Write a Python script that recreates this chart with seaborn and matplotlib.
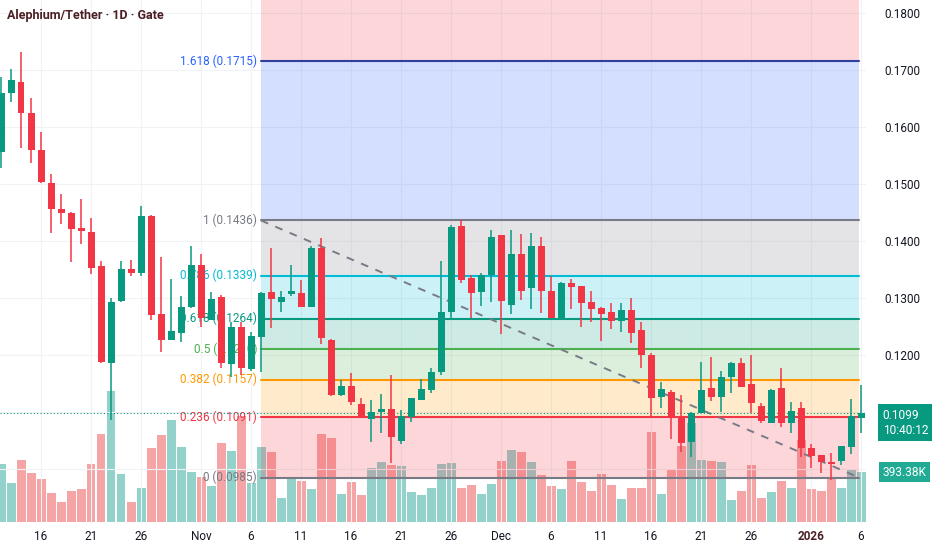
import numpy as np
import pandas as pd
import seaborn as sns
import matplotlib.pyplot as plt
import matplotlib.transforms as mtransforms

# Daily candles, Alephium/Tether (Gate)
dates = pd.date_range("2025-10-12", "2026-01-06", freq="D")

opens = [0.1556, 0.1660, 0.1679, 0.1625, 0.1560, 0.1502, 0.1456, 0.1449, 0.1423, 0.1416,
         0.1356, 0.1186, 0.1295, 0.1351, 0.1344, 0.1444, 0.1272, 0.1226, 0.1239, 0.1284,
         0.1358, 0.1262, 0.1302, 0.1184, 0.1249, 0.1175, 0.1232, 0.1311, 0.1293, 0.1307,
         0.1309, 0.1284, 0.1388, 0.1226, 0.1130, 0.1146, 0.1114, 0.1088, 0.1100, 0.1105,
         0.1049, 0.1091, 0.1121, 0.1139, 0.1170, 0.1275, 0.1426, 0.1335, 0.1311, 0.1340,
         0.1411, 0.1288, 0.1377, 0.1318, 0.1391, 0.1312, 0.1265, 0.1326, 0.1321, 0.1293,
         0.1282, 0.1275, 0.1260, 0.1279, 0.1244, 0.1200, 0.1126, 0.1135, 0.1093, 0.1047,
         0.1098, 0.1142, 0.1126, 0.1161, 0.1186, 0.1149, 0.1111, 0.1081, 0.1142, 0.1081,
         0.1107, 0.1037, 0.1025, 0.1012, 0.1014, 0.1039, 0.1089]
highs = [0.1688, 0.1702, 0.1732, 0.1651, 0.1591, 0.1518, 0.1482, 0.1451, 0.1474, 0.1440,
         0.1365, 0.1300, 0.1365, 0.1367, 0.1461, 0.1446, 0.1372, 0.1333, 0.1304, 0.1391,
         0.1377, 0.1311, 0.1305, 0.1258, 0.1258, 0.1240, 0.1311, 0.1388, 0.1312, 0.1358,
         0.1332, 0.1391, 0.1405, 0.1228, 0.1156, 0.1168, 0.1125, 0.1121, 0.1132, 0.1165,
         0.1104, 0.1125, 0.1158, 0.1177, 0.1365, 0.1428, 0.1437, 0.1340, 0.1344, 0.1419,
         0.1411, 0.1419, 0.1412, 0.1414, 0.1407, 0.1339, 0.1328, 0.1333, 0.1321, 0.1312,
         0.1284, 0.1291, 0.1291, 0.1300, 0.1258, 0.1204, 0.1153, 0.1139, 0.1130, 0.1100,
         0.1188, 0.1196, 0.1172, 0.1188, 0.1195, 0.1200, 0.1116, 0.1140, 0.1177, 0.1118,
         0.1118, 0.1044, 0.1025, 0.1028, 0.1040, 0.1123, 0.1147]
lows = [0.1528, 0.1644, 0.1563, 0.1537, 0.1502, 0.1414, 0.1430, 0.1363, 0.1395, 0.1342,
        0.1186, 0.1086, 0.1293, 0.1339, 0.1339, 0.1261, 0.1205, 0.1226, 0.1223, 0.1282,
        0.1249, 0.1261, 0.1177, 0.1161, 0.1165, 0.1172, 0.1170, 0.1247, 0.1275, 0.1304,
        0.1284, 0.1284, 0.1219, 0.1128, 0.1128, 0.1112, 0.1089, 0.1047, 0.1063, 0.1011,
        0.1044, 0.1082, 0.1121, 0.1133, 0.1165, 0.1265, 0.1326, 0.1265, 0.1286, 0.1293,
        0.1237, 0.1272, 0.1296, 0.1281, 0.1274, 0.1265, 0.1263, 0.1281, 0.1249, 0.1258,
        0.1225, 0.1246, 0.1240, 0.1221, 0.1177, 0.1093, 0.1107, 0.1053, 0.1030, 0.1021,
        0.1098, 0.1119, 0.1100, 0.1133, 0.1144, 0.1098, 0.1081, 0.1081, 0.1074, 0.1063,
        0.1021, 0.1002, 0.0993, 0.0981, 0.1007, 0.1026, 0.1063]
closes = [0.1660, 0.1682, 0.1625, 0.1560, 0.1504, 0.1456, 0.1449, 0.1421, 0.1418, 0.1353,
          0.1188, 0.1293, 0.1351, 0.1344, 0.1444, 0.1270, 0.1226, 0.1242, 0.1284, 0.1358,
          0.1265, 0.1298, 0.1186, 0.1249, 0.1177, 0.1233, 0.1309, 0.1298, 0.1302, 0.1312,
          0.1284, 0.1388, 0.1230, 0.1130, 0.1146, 0.1118, 0.1091, 0.1100, 0.1105, 0.1056,
          0.1093, 0.1125, 0.1140, 0.1170, 0.1275, 0.1425, 0.1332, 0.1309, 0.1340, 0.1407,
          0.1295, 0.1377, 0.1312, 0.1391, 0.1312, 0.1265, 0.1326, 0.1319, 0.1291, 0.1281,
          0.1272, 0.1260, 0.1279, 0.1239, 0.1200, 0.1125, 0.1140, 0.1093, 0.1046, 0.1098,
          0.1139, 0.1126, 0.1161, 0.1186, 0.1144, 0.1116, 0.1084, 0.1139, 0.1081, 0.1102,
          0.1037, 0.1023, 0.1012, 0.1009, 0.1040, 0.1093, 0.1099]
# volume in thousands
volumes_k = [456, 306, 490, 385, 337, 229, 160, 247, 258, 461,
             693, 1035, 377, 160, 271, 587, 685, 806, 595, 393,
             356, 284, 622, 561, 837, 308, 590, 551, 192, 345,
             322, 258, 693, 661, 219, 314, 211, 424, 472, 450,
             442, 235, 211, 271, 458, 464, 271, 290, 219, 303,
             484, 569, 551, 472, 369, 284, 258, 480, 318, 243,
             377, 290, 179, 266, 271, 709, 224, 416, 600, 780,
             490, 484, 476, 174, 247, 450, 187, 235, 326, 266,
             645, 258, 245, 358, 266, 416, 393.38]

# Fibonacci retracement drawn from the Nov 7 high to the Jan 6 low
fib_ratios = [0, 0.236, 0.382, 0.5, 0.618, 0.786, 1, 1.618]
fib_prices = [0.0985, 0.1091, 0.1157, 0.1210, 0.1264, 0.1339, 0.1436, 0.1715]
fib_colors = ["#787b86", "#f23645", "#ff9800", "#4caf50", "#089981", "#00bcd4", "#787b86", "#2962ff"]
fib_start, fib_end = "2025-11-07", "2026-01-06"

tick_days = ["2025-10-16", "2025-10-21", "2025-10-26", "2025-11-01", "2025-11-06", "2025-11-11",
             "2025-11-16", "2025-11-21", "2025-11-26", "2025-12-01", "2025-12-06", "2025-12-11",
             "2025-12-16", "2025-12-21", "2025-12-26", "2026-01-01", "2026-01-06"]
# 0.1100 and 0.1000 sit under the last-price / volume tags, so only these show
price_ticks = [0.12, 0.13, 0.14, 0.15, 0.16, 0.17, 0.18]

UP, DOWN = "#089981", "#f23645"
VOL_UP, VOL_DOWN = "#92d2cb", "#f5a5a5"
TEXT = "#131722"

sns.set_theme(style="white")
plt.rcParams["font.family"] = ["Roboto", "DejaVu Sans"]

idx = np.arange(len(dates))
o, h, l, c = map(np.array, (opens, highs, lows, closes))
up = c >= o
direction = np.where(up, "up", "down")

fig = plt.figure(figsize=(9.32, 5.5), dpi=100)
ax = fig.add_axes([0, 26 / 550, 866 / 932, 524 / 550])
ax2 = ax.twinx()
ax.set_zorder(ax2.get_zorder() + 1)
ax.patch.set_visible(False)

# volume bars on the hidden twin axis
vol_df = pd.DataFrame({"idx": idx, "vol": volumes_k, "dir": direction})
sns.barplot(data=vol_df, x="idx", y="vol", hue="dir", palette={"up": VOL_UP, "down": VOL_DOWN},
            native_scale=True, dodge=False, width=0.9, errorbar=None, legend=False,
            saturation=1, linewidth=0, orient="x", ax=ax2)
ax2.set_ylim(-15.8, 4124)
ax2.set_yticks([])
ax2.set_ylabel("")
ax2.set_xlabel("")

ylo, yhi = 0.09035, 0.18228
ax.set_ylim(ylo, yhi)

# fib zones and levels
xs = dates.get_loc(pd.Timestamp(fib_start))
xe = dates.get_loc(pd.Timestamp(fib_end)) - 0.2
bounds = fib_prices + [yhi]
zone_colors = fib_colors[1:] + ["#f23645"]
for i in range(len(fib_prices)):
    ax.fill_between([xs, xe], bounds[i], bounds[i + 1], color=zone_colors[i], alpha=0.2,
                    linewidth=0, zorder=1)
for r, p, col in zip(fib_ratios, fib_prices, fib_colors):
    lc = "#2f3f9e" if r == 1.618 else col
    ax.plot([xs, xe], [p, p], color=lc, lw=1.5, zorder=2)
    ax.text(xs - 0.4, p, f"{r:g} ({p:.4f})", color=col, fontsize=8.5, ha="right",
            va="center", zorder=2.5)

# dashed trend line between the fib anchors
ax.plot([xs, xe], [fib_prices[-2], fib_prices[0]], color="#787b86", lw=1.4,
        ls=(0, (4, 4)), zorder=3)

# current price line
ax.axhline(closes[-1], color=UP, lw=0.8, ls=(0, (1, 2)), zorder=3)

# candles
colors = np.where(up, UP, DOWN)
ax.vlines(idx, l, h, colors=colors, lw=1.1, zorder=4)
body = np.maximum(np.abs(c - o), 0.00012)
ax.bar(idx, body, bottom=np.minimum(o, c), width=0.7, color=colors, linewidth=0, zorder=5)

ax.set_xlim(-0.1, 86.5)

# axes styling
for a in (ax, ax2):
    for s in a.spines.values():
        s.set_visible(False)
ax.yaxis.tick_right()
ax.set_yticks(price_ticks)
ax.set_yticklabels([f"{p:.4f}" for p in price_ticks])
ax.tick_params(axis="y", length=0, pad=13, labelsize=8.5, labelcolor=TEXT)

tick_pos = [dates.get_loc(pd.Timestamp(d)) for d in tick_days]
tick_lbl = []
for d in pd.to_datetime(tick_days):
    if d.month == 1 and d.day == 1:
        tick_lbl.append(str(d.year))
    elif d.day == 1:
        tick_lbl.append(d.strftime("%b"))
    else:
        tick_lbl.append(str(d.day))
ax.set_xticks(tick_pos)
ax.set_xticklabels(tick_lbl)
ax.tick_params(axis="x", length=0, pad=4, labelsize=8.5, labelcolor=TEXT)
for t in ax.get_xticklabels():
    if t.get_text() == "2026":
        t.set_fontweight("bold")
        t.set_color("#4b1f24")

ax.grid(True, color="#f0f2f6", lw=0.8)
ax.set_axisbelow(True)
ax.set_yticks([0.10, 0.11], minor=True)
ax.tick_params(axis="y", which="minor", length=0, labelright=False)
ax.yaxis.grid(True, which="minor", color="#f0f2f6", lw=0.8)

# last price / volume tags on the price scale
ax.annotate(f"{closes[-1]:.4f}\n10:40:12", xy=(1, closes[-1]), xycoords=("axes fraction", "data"),
            xytext=(12, 2.5), textcoords="offset points", ha="left", va="top", fontsize=8.6,
            color="white", linespacing=1.15, annotation_clip=False, zorder=10,
            bbox=dict(boxstyle="square,pad=0.4", fc=UP, ec="none"))
vol_tf = mtransforms.blended_transform_factory(ax.transAxes, ax2.transData)
ax.annotate(f"{volumes_k[-1]:.2f}K", xy=(1, volumes_k[-1]), xycoords=vol_tf,
            xytext=(12, 0), textcoords="offset points", ha="left", va="center", fontsize=8.6,
            color="white", annotation_clip=False, zorder=10,
            bbox=dict(boxstyle="square,pad=0.3", fc="#22ab94", ec="none"))

fig.text(7 / 932, 1 - 15 / 550, "Alephium/Tether · 1D · Gate", fontsize=9, fontweight="bold",
         color="#4b1f24", va="center", ha="left")

fig.savefig("out.png", dpi=100)
